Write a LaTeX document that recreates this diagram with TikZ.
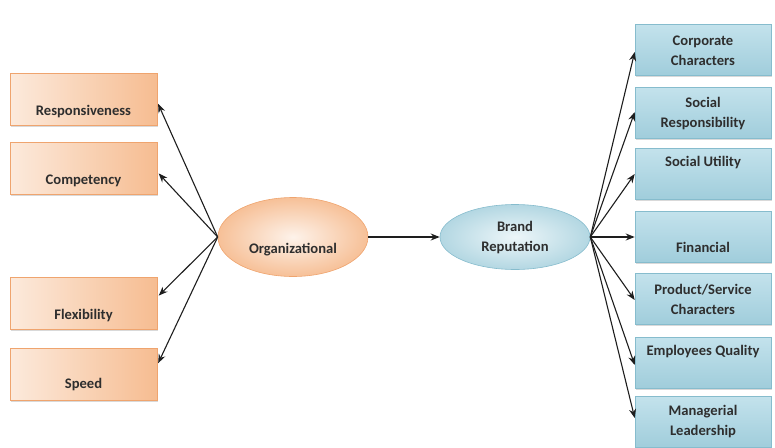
\documentclass[tikz,border=0pt]{standalone}
\usepackage{fontspec}
\setmainfont{Carlito}
\usetikzlibrary{shapes.geometric,shadows,arrows.meta}
\definecolor{txt}{HTML}{2E2E2E}
\definecolor{oLight}{HTML}{FCEADC}
\definecolor{oDark}{HTML}{F5B585}
\definecolor{oEdge}{HTML}{EFA46E}
\definecolor{bTop}{HTML}{C3E2EC}
\definecolor{bMid}{HTML}{E5F2F6}
\definecolor{bBot}{HTML}{A0CDDB}
\definecolor{bEdge}{HTML}{86BCCD}
\definecolor{arr}{HTML}{1E1E1E}
\tikzset{
  lbl/.style={font=\fontsize{14.6}{20}\selectfont\bfseries, text=txt, align=center, inner sep=0pt},
  obox/.style={rectangle, minimum width=147pt, minimum height=52pt, inner sep=0pt,
    left color=oLight, right color=oDark!90!white, draw=oEdge, line width=0.6pt,
    drop shadow={shadow xshift=1.2pt, shadow yshift=-1.8pt, opacity=0.3}},
  bbox/.style={rectangle, minimum width=136pt, minimum height=51pt, inner sep=0pt,
    top color=bTop, middle color=bMid, bottom color=bBot, draw=bEdge, line width=0.6pt,
    drop shadow={shadow xshift=1.2pt, shadow yshift=-1.8pt, opacity=0.3}},
  oell/.style={ellipse, minimum width=150pt, minimum height=79pt, inner sep=0pt,
    inner color=oLight!60!white, outer color=oDark!85!white, draw=oEdge, line width=0.6pt},
  bell/.style={ellipse, minimum width=150pt, minimum height=65pt, inner sep=0pt,
    inner color=bMid!70!white, outer color=bBot!80!white, draw=bEdge, line width=0.6pt},
  link/.style={draw=arr, line width=1.1pt, -{Stealth[length=9pt,width=7pt]}}
}
\begin{document}
\begin{tikzpicture}[x=1pt,y=-1pt]
\useasboundingbox (0,0) rectangle (775,447);

% left-hand factors
\node[obox] (resp) at (83.5,99) {};
\node[obox] (comp) at (83.5,168) {};
\node[obox] (flex) at (83.5,303.5) {};
\node[obox] (speed) at (83.5,374) {};
\node[lbl] (respT) at (83.5,112) {Responsiveness};
\node[lbl] (compT) at (83.5,181) {Competency};
\node[lbl] (flexT) at (83.5,316) {Flexibility};
\node[lbl] (speedT) at (83.5,385) {Speed};

% central ellipses
\node[oell] (org) at (293,237) {};
\node[lbl] (orgT) at (293,250) {Organizational};
\node[bell] (brand) at (515,237) {};
\node[lbl] (brandT) at (515,237.5) {Brand\\Reputation};

% right-hand dimensions
\node[bbox] (corp) at (703,50) {};
\node[bbox] (soc) at (703,113) {};
\node[bbox] (util) at (703,174) {};
\node[bbox] (fin) at (703,237) {};
\node[bbox] (prod) at (703,299) {};
\node[bbox] (emp) at (703,362.5) {};
\node[bbox] (man) at (703,422) {};
\node[lbl] (corpT) at (703,50.5) {Corporate\\Characters};
\node[lbl] (socT) at (703,114) {Social\\Responsibility};
\node[lbl] (utilT) at (703,162.5) {Social Utility};
\node[lbl] (finT) at (703,247.5) {Financial};
\node[lbl] (prodT) at (703,299) {Product/Service\\Characters};
\node[lbl] (empT) at (703,352) {Employees Quality};
\node[lbl] (manT) at (703,422) {Managerial\\Leadership};

% connectors
\draw[link, shorten >=2pt] (org.west) -- ([yshift=-3pt]resp.east);
\draw[link, shorten >=2pt] (org.west) -- ([yshift=-4pt]comp.east);
\draw[link, shorten >=2pt] (org.west) -- ([yshift=6.5pt]flex.east);
\draw[link, shorten >=2pt] (org.west) -- ([yshift=9pt]speed.east);
\draw[link] (org.east) -- (brand.west);
\draw[link] (brand.east) -- ([yshift=-2pt]corp.west);
\draw[link] (brand.east) -- ([yshift=1pt]soc.west);
\draw[link] (brand.east) -- (util.west);
\draw[link] (brand.east) -- (fin.west);
\draw[link] (brand.east) -- ([yshift=-1pt]prod.west);
\draw[link] (brand.east) -- ([yshift=-2.5pt]emp.west);
\draw[link] (brand.east) -- ([yshift=4pt]man.west);
\end{tikzpicture}
\end{document}
